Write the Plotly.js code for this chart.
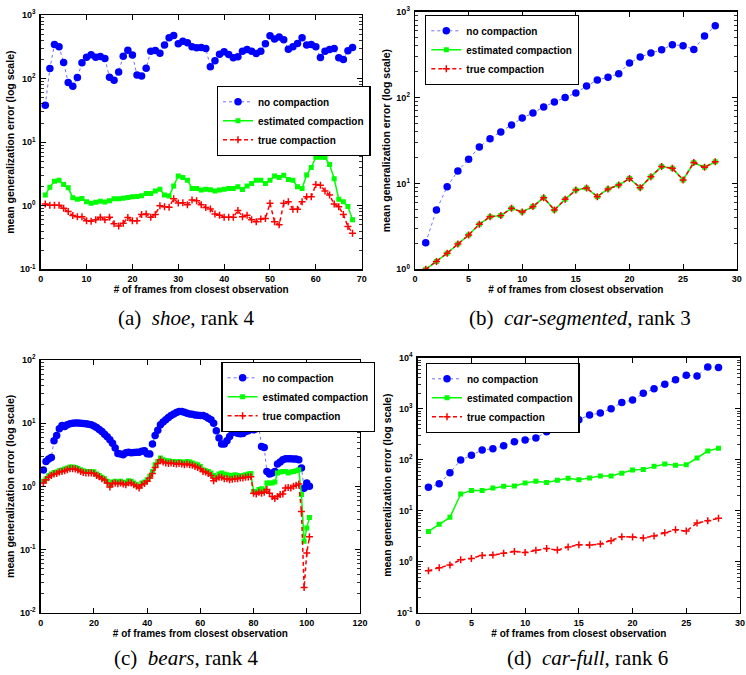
<!DOCTYPE html>
<html><head><meta charset="utf-8">
<script src="https://cdn.plot.ly/plotly-3.0.1.min.js"></script>
<style>html,body{margin:0;padding:0;background:#fff}#chart{width:746px;height:675px}</style>
</head><body><div id="chart"></div>
<script>
// ---------- (a) shoe ----------
const shoeX = [1,2,3,4,5,6,7,8,9,10,11,12,13,14,15,16,17,18,19,20,21,22,23,24,25,26,27,28,29,30,31,32,33,34,35,36,37,38,39,40,41,42,43,44,45,46,47,48,49,50,51,52,53,54,55,56,57,58,59,60,61,62,63,64,65,66,67,68];
const shoeNo = [37.9,144,344,316,179,86.5,75.7,104,177,217,236,217,222,207,105,94,127,225,280,234,114,110,146,270,277,251,336,439,477,353,388,365,316,305,308,
  298,153,190,242,264,239,212,220,270,287,270,248,270,353,472,418,450,408,290,316,357,439,336,344,316,215,270,287,298,212,200,273,308];
const shoeEst = [1.47,1.96,2.43,2.52,2.15,1.91,1.33,1.27,1.30,1.15,1.09,1.13,1.18,1.14,1.20,1.29,1.29,1.31,1.35,1.38,1.40,1.43,1.56,1.56,1.71,1.82,1.47,1.42,2.05,2.94,2.77,2.52,1.87,1.87,1.76,
  1.82,1.78,1.71,1.76,1.82,1.87,1.87,1.98,1.80,2.05,2.23,2.52,2.52,2.23,2.52,2.94,2.77,3.01,2.58,2.52,1.98,1.87,3.05,4.0,5.8,5.8,5.72,4.44,2.65,1.27,1.16,0.97,0.60];
const shoeTrue = [1.06,1.02,1.02,1.02,0.91,0.81,0.70,0.67,0.67,0.58,0.57,0.60,0.66,0.60,0.66,0.52,0.48,0.53,0.65,0.58,0.58,0.73,0.74,0.66,0.73,1.00,0.96,0.95,1.29,1.10,1.11,1.04,1.23,1.20,1.04,
  0.94,0.89,0.74,0.71,0.66,0.66,0.66,0.84,0.67,0.71,0.60,0.56,0.62,0.63,1.09,0.56,0.50,1.09,1.15,0.88,0.88,1.15,1.38,1.38,2.15,2.10,1.71,1.47,1.06,0.96,0.73,0.47,0.37];

// ---------- (b) car-segmented ----------
const segX = [1,2,3,4,5,6,7,8,9,10,11,12,13,14,15,16,17,18,19,20,21,22,23,24,25,26,27,28];
const segNo = [2.04,4.91,9.17,14.0,19.1,26.6,33.2,39.7,47.9,57.8,66.1,77.6,88.8,100.5,113,136,160,172,190,253,296,330,361,412,402,364,520,687];
const segEst = [1.0,1.23,1.54,1.97,2.51,3.34,4.10,4.22,5.13,4.65,5.37,6.83,4.91,6.53,8.39,8.85,7.02,8.61,9.59,11.4,8.93,12.0,15.7,15.0,11.0,17.5,15.4,17.9];
const segTrue = [1.0,1.23,1.54,1.97,2.51,3.34,4.10,4.22,5.13,4.65,5.37,6.83,4.91,6.53,8.39,8.85,7.02,8.61,9.59,11.4,8.93,12.0,15.7,15.0,11.0,17.5,15.4,17.9];

// ---------- (c) bears ----------
const bearsX = [1,2,3,4,5,6,7,8,9,10,11,12,13,14,15,16,17,18,19,20,21,22,23,24,25,26,27,28,29,30,31,32,33,34,35,36,37,38,39,40,41,42,43,44,45,46,47,48,49,50,
  51,52,53,54,55,56,57,58,59,60,61,62,63,64,65,66,67,68,69,70,71,72,73,74,75,76,77,78,79,80,81,82,83,84,85,86,87,88,89,90,91,92,93,94,95,96,97,98,99,100,101];
const bearsNo = [1.81,2.48,2.70,2.87,5.26,6.39,8.14,9.19,8.86,9.41,9.75,10.0,10.1,10.1,10.0,9.9,9.75,9.6,9.4,9.06,8.54,7.94,7.38,6.70,6.08,5.45,4.83,4.03,3.32,3.24,
  3.16,3.40,3.48,3.40,3.44,3.48,3.48,3.61,3.66,3.28,3.24,4.66,6.39,7.75,9.41,10.4,11.3,12.3,13.2,14.0,14.7,15.3,15.3,14.9,14.4,14.0,13.8,13.5,13.3,13.2,
  13.2,12.7,12.0,11.3,10.0,7.57,5.80,4.66,4.66,5.26,6.16,7.12,7.20,6.95,6.80,6.85,7.38,7.57,8.04,7.85,8.15,8.54,4.28,4.13,1.72,1.57,1.62,1.72,2.25,2.42,
  2.64,2.73,2.73,2.73,2.70,2.70,2.64,1.95,0.93,1.13,1.0];
const bearsEst = [1.20,1.32,1.47,1.57,1.66,1.68,1.77,1.81,1.88,1.95,2.02,2.02,1.99,1.92,1.83,1.77,1.72,1.72,1.72,1.70,1.57,1.49,1.39,1.32,1.20,1.04,1.17,1.20,1.17,1.20,
  1.16,1.13,1.23,1.20,1.13,1.06,1.0,1.13,1.17,1.27,1.44,1.72,2.20,2.48,2.80,2.64,2.54,2.54,2.48,2.48,2.42,2.48,2.42,2.39,2.48,2.42,2.34,2.25,2.20,2.07,
  1.83,1.77,1.72,1.62,1.49,1.39,1.57,1.62,1.57,1.53,1.49,1.49,1.53,1.49,1.44,1.49,1.53,1.57,1.60,0.83,0.83,0.89,0.92,0.85,1.13,1.13,1.13,1.17,1.62,1.68,
  1.72,1.72,1.62,1.68,1.72,1.77,1.83,0.74,0.135,0.22,0.32];
const bearsTrue = [1.13,1.27,1.39,1.49,1.57,1.60,1.68,1.72,1.77,1.83,1.90,1.90,1.88,1.81,1.72,1.66,1.62,1.62,1.62,1.60,1.49,1.42,1.32,1.26,1.13,0.98,1.11,1.13,1.10,1.13,
  1.09,1.06,1.14,1.13,1.06,1.0,0.94,1.06,1.11,1.20,1.35,1.60,1.99,2.31,2.64,2.42,2.34,2.31,2.34,2.31,2.25,2.31,2.25,2.20,2.25,2.20,2.15,2.07,1.99,1.90,
  1.72,1.68,1.60,1.49,1.23,1.32,1.39,1.39,1.32,1.32,1.27,1.29,1.32,1.32,1.35,1.35,1.39,1.40,1.42,0.78,0.76,0.81,0.78,0.81,0.89,0.78,0.69,0.64,0.69,0.74,
  0.76,0.94,0.96,0.94,1.0,1.04,1.09,0.40,0.025,0.088,0.16];

// ---------- (d) car-full ----------
const fullX = [1,2,3,4,5,6,7,8,9,10,11,12,13,14,15,16,17,18,19,20,21,22,23,24,25,26,27,28];
const fullNo = [28.7,33.8,55.6,98.5,122,155,164,188,226,243,266,354,457,500,608,751,822,1000,1330,1479,2000,2467,3000,3704,4507,4375,6565,6460];
const fullEst = [3.93,5.40,7.40,21.2,25.0,25.0,27.8,30.0,30.5,34.9,37.6,35.9,39.4,43.1,40.6,43.7,47.9,47.9,54.0,62.7,64.6,74.0,82.2,77.4,79.8,108,148,167];
const fullTrue = [0.667,0.762,0.861,1.09,1.16,1.33,1.35,1.46,1.59,1.52,1.67,1.82,1.69,1.94,2.15,2.12,2.22,2.58,3.09,3.04,2.91,3.19,3.70,4.24,3.99,5.73,6.37,7.08];

const seriesNames = ['no compaction','estimated compaction','true compaction'];
const captions = ['(a)&nbsp;&nbsp;<i>shoe</i>, rank 4','(b)&nbsp;&nbsp;<i>car-segmented</i>, rank 3','(c)&nbsp;&nbsp;<i>bears</i>, rank 4','(d)&nbsp;&nbsp;<i>car-full</i>, rank 6'];
const xTitle = '# of frames from closest observation';
const yTitle = 'mean generalization error (log scale)';

const F = 'Liberation Sans, Arial, Helvetica, sans-serif';
const tickFont = {family:F, size:9, color:'#000', weight:'bold'};

function traces(x, no, est, tru, n) {
  const xa = n===1 ? 'x' : 'x'+n, ya = n===1 ? 'y' : 'y'+n, lg = n===1 ? 'legend' : 'legend'+n;
  return [
    {x:x, y:no, name:seriesNames[0], type:'scatter', mode:'lines+markers', xaxis:xa, yaxis:ya, legend:lg,
     line:{color:'#7070ff', width:1, dash:'dot'}, marker:{symbol:'circle', size:7.5, color:'#0000ff'}},
    {x:x, y:est, name:seriesNames[1], type:'scatter', mode:'lines+markers', xaxis:xa, yaxis:ya, legend:lg,
     line:{color:'#00ff00', width:1.5}, marker:{symbol:'square', size:5, color:'#00ff00'}},
    {x:x, y:tru, name:seriesNames[2], type:'scatter', mode:'lines+markers', xaxis:xa, yaxis:ya, legend:lg,
     line:{color:'#ff0000', width:1.5, dash:'4px,3px'}, marker:{symbol:'cross-thin', size:5, line:{color:'#ff0000', width:1.5}, color:'#ff0000'}}
  ];
}

const data = [].concat(
  traces(shoeX, shoeNo, shoeEst, shoeTrue, 1),
  traces(segX, segNo, segEst, segTrue, 2),
  traces(bearsX, bearsNo, bearsEst, bearsTrue, 3),
  traces(fullX, fullNo, fullEst, fullTrue, 4)
);

const W = 746, H = 675;
function px2x(a,b){return [a/W, b/W];}
function px2y(top,bot){return [1-bot/H, 1-top/H];}

function xaxis(dom, range, dtick, anchor) {
  return {domain:dom, range:range, dtick:dtick, tick0:0, anchor:anchor, showline:true, linecolor:'#000', linewidth:1.3,
    mirror:'allticks', ticks:'inside', ticklen:5, tickwidth:1, tickcolor:'#000', showgrid:false, zeroline:false,
    tickfont:tickFont, ticklabelstandoff:1,
    title:{text:xTitle, font:{family:F, size:10, color:'#000', weight:'bold'}, standoff:1}};
}
function supText(e){return '10<sup>'+e+'</sup>';}
function yaxis(dom, lo, hi, anchor) {
  const vals = [], txt = [];
  for (let e = lo; e <= hi; e++) { vals.push(Math.pow(10,e)); txt.push(supText(e)); }
  return {domain:dom, type:'log', range:[lo,hi], anchor:anchor, tickvals:vals, ticktext:txt,
    showline:true, linecolor:'#000', linewidth:1.3, mirror:'allticks', ticks:'inside', ticklen:5, tickwidth:1, tickcolor:'#000',
    minor:{ticks:'inside', ticklen:3, tickwidth:0.8, tickcolor:'#000', dtick:'D1', showgrid:false},
    showgrid:false, zeroline:false, tickfont:tickFont, ticklabelstandoff:2,
    title:{text:yTitle, font:{family:F, size:10.5, color:'#000', weight:'bold'}, standoff:3}};
}
function legend(x, y) {
  return {x:x/W, y:1-y/H, xanchor:'left', yanchor:'top', bgcolor:'#fff', bordercolor:'#000', borderwidth:1.3,
    font:{family:F, size:10, color:'#000', weight:'bold'}, tracegroupgap:0, itemwidth:30};
}

const layout = {
  width:W, height:H, margin:{l:0,r:0,t:0,b:0}, paper_bgcolor:'#fff', plot_bgcolor:'#fff', showlegend:true,
  xaxis: xaxis(px2x(40.7,361.7), [0,70], 10, 'y'),
  yaxis: yaxis(px2y(15,269.3), -1, 3, 'x'),
  xaxis2: xaxis(px2x(415,736.7), [0,30], 5, 'y2'),
  yaxis2: yaxis(px2y(11.7,269.3), 0, 3, 'x2'),
  xaxis3: xaxis(px2x(40.7,360), [0,120], 20, 'y3'),
  yaxis3: yaxis(px2y(360,612.7), -2, 2, 'x3'),
  xaxis4: xaxis(px2x(417.7,740), [0,30], 5, 'y4'),
  yaxis4: yaxis(px2y(357.7,612.7), -1, 4, 'x4'),
  legend: legend(216.7, 86),
  legend2: legend(425, 15),
  legend3: legend(221.3, 362),
  legend4: legend(425.7, 363),
  annotations: [
    [186, 318, captions[0]], [580, 318, captions[1]], [186, 658, captions[2]], [587, 658, captions[3]]
  ].map(c => ({x:c[0]/W, y:1-c[1]/H, xref:'paper', yref:'paper', text:c[2], showarrow:false, xanchor:'center', yanchor:'middle',
      font:{family:'Liberation Serif, DejaVu Serif, serif', size:21, color:'#000'}}))
};

Plotly.newPlot('chart', data, layout, {displayModeBar:false, staticPlot:true});
</script></body></html>
